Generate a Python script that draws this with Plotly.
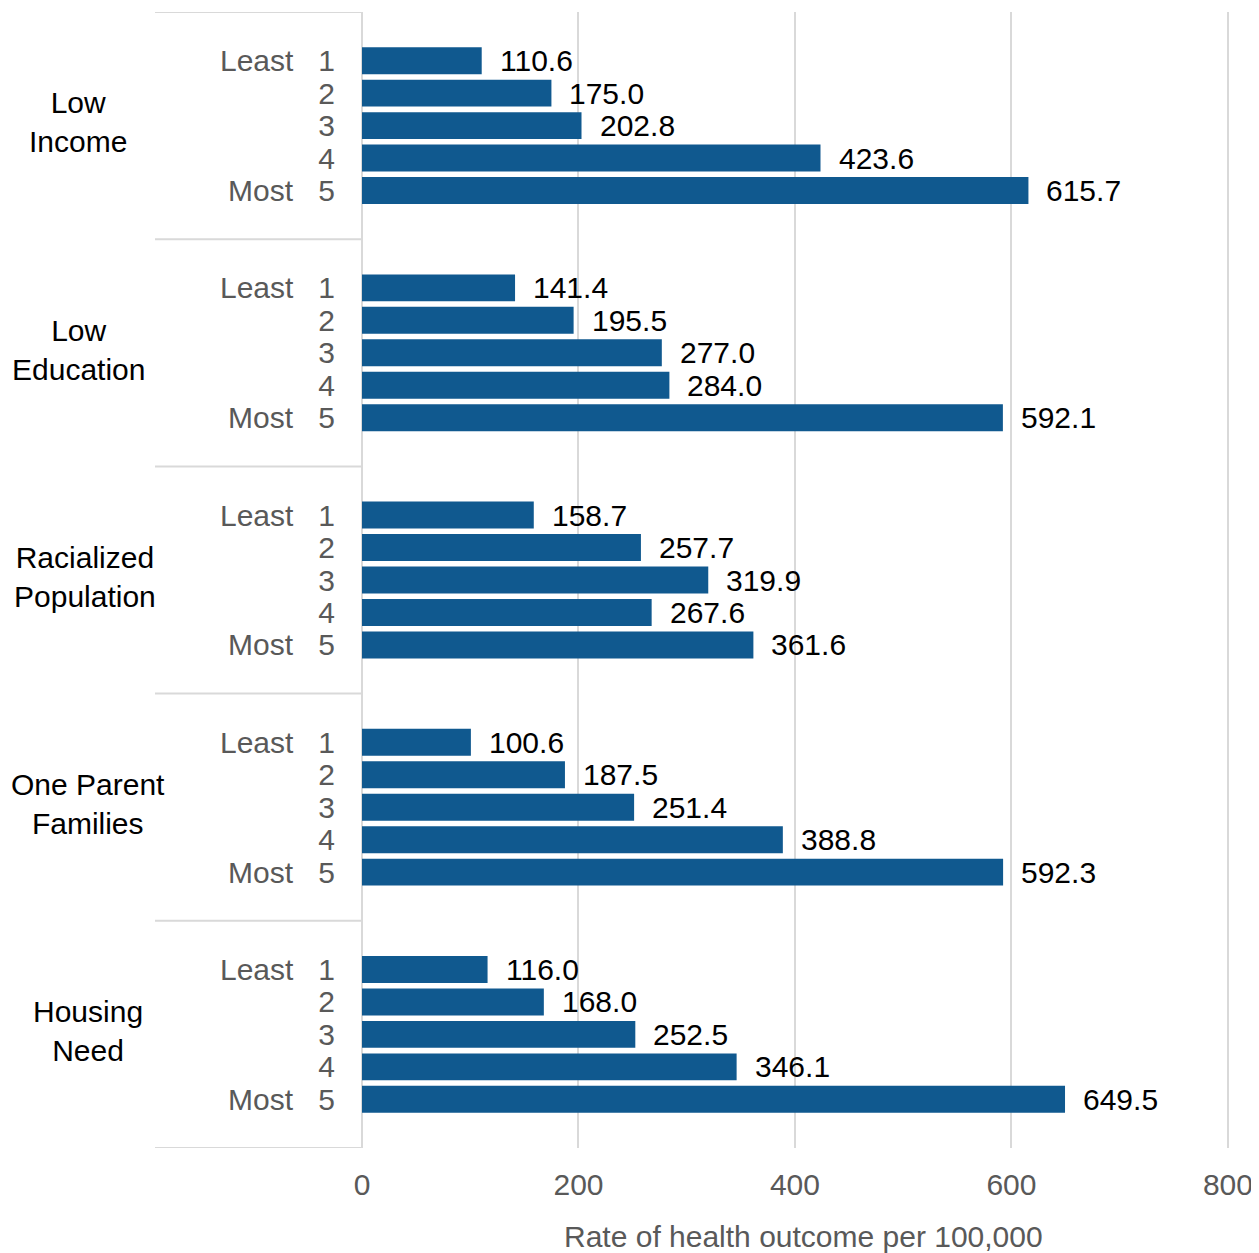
import plotly.graph_objects as go

# data
groups = ["Low<br>Income", "Low<br>Education", "Racialized<br>Population",
          "One Parent<br>Families", "Housing<br>Need"]
quintiles = ["1", "2", "3", "4", "5"]
low_income = [110.6, 175.0, 202.8, 423.6, 615.7]
low_education = [141.4, 195.5, 277.0, 284.0, 592.1]
racialized = [158.7, 257.7, 319.9, 267.6, 361.6]
one_parent = [100.6, 187.5, 251.4, 388.8, 592.3]
housing_need = [116.0, 168.0, 252.5, 346.1, 649.5]
series = [low_income, low_education, racialized, one_parent, housing_need]
x_title = "Rate of health outcome per 100,000"

FONT = "Liberation Sans, Arial, sans-serif"
FS = 30
GRID = "#d9d9d9"
BAR = "#10598f"
SLOTS = 7  # rows per group, incl. padding
label_cx = [78, 78, 85, 88, 88]  # horizontal centre (px) of group labels

# the page body has an 8px margin, so the figure is a bit smaller than the window
OFF = 8
W, H = 1259 - OFF, 1253 - OFF
ml, mr, mt, mb = 362 - OFF, 30, 12 - OFF, 105
plot_w = W - ml - mr

def px_to_paper(px):
    return (px - OFF - ml) / plot_w

ys, xs = [], []
for g, vals in enumerate(series):
    for i, v in enumerate(vals):
        ys.append(g * SLOTS + 1.5 + i)
        xs.append(v)

fig = go.Figure()
fig.add_trace(go.Bar(
    x=xs, y=ys, orientation="h", width=0.83,
    marker=dict(color=BAR, line=dict(width=0)),
    hoverinfo="x",
))

annotations = []
# value labels
for x, y in zip(xs, ys):
    annotations.append(dict(x=x, y=y, xref="x", yref="y", text=f"{x:.1f}",
                            showarrow=False, xanchor="left", xshift=16,
                            font=dict(size=FS, color="#000000", family=FONT)))
# group / least / most labels
for g, name in enumerate(groups):
    center = g * SLOTS + SLOTS / 2
    annotations.append(dict(x=px_to_paper(label_cx[g]), y=center - 0.1, xref="paper", yref="y",
                            text=name, showarrow=False, xanchor="center", align="center",
                            font=dict(size=FS, color="#000000", family=FONT)))
    annotations.append(dict(x=px_to_paper(296), y=g * SLOTS + 1.5, xref="paper", yref="y",
                            text="Least", showarrow=False, xanchor="right",
                            font=dict(size=FS, color="#595959", family=FONT)))
    annotations.append(dict(x=px_to_paper(296), y=g * SLOTS + 5.5, xref="paper", yref="y",
                            text="Most", showarrow=False, xanchor="right",
                            font=dict(size=FS, color="#595959", family=FONT)))
# x axis title, sits a little right of the plot centre
annotations.append(dict(x=px_to_paper(803), y=0, xref="paper", yref="paper",
                        yshift=-88, text=x_title, showarrow=False,
                        xanchor="center", yanchor="middle",
                        font=dict(size=FS, color="#595959", family=FONT)))

shapes = []
for k in range(len(groups) + 1):
    shapes.append(dict(type="line", xref="paper", yref="y",
                       x0=px_to_paper(155), x1=0, y0=k * SLOTS, y1=k * SLOTS,
                       line=dict(color=GRID, width=2), layer="below"))

fig.update_layout(
    width=W, height=H,
    margin=dict(l=ml, r=mr, t=mt, b=mb, autoexpand=False),
    plot_bgcolor="white", paper_bgcolor="white",
    showlegend=False,
    annotations=annotations, shapes=shapes,
    font=dict(family=FONT, size=FS, color="#595959"),
    xaxis=dict(range=[0, 801], tickvals=[0, 200, 400, 600, 800],
               automargin=False,
               showgrid=True, gridcolor=GRID, gridwidth=2,
               zeroline=True, zerolinecolor=GRID, zerolinewidth=2,
               ticks="outside", ticklen=10, tickcolor="rgba(0,0,0,0)",
               tickfont=dict(size=FS, color="#595959", family=FONT)),
    yaxis=dict(range=[len(groups) * SLOTS, 0],
               automargin=False,
               tickvals=ys, ticktext=quintiles * len(groups),
               showgrid=False, zeroline=False,
               ticks="outside", ticklen=20, tickcolor="rgba(0,0,0,0)",
               tickfont=dict(size=FS, color="#595959", family=FONT)),
)

fig.write_html("out.html")
